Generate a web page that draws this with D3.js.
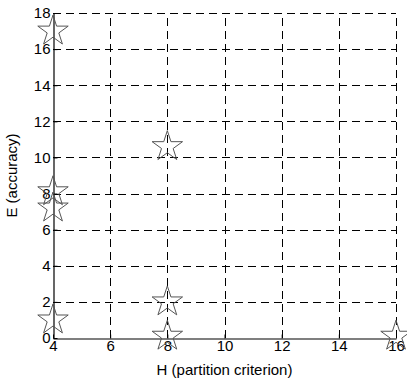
<!DOCTYPE html>
<html>
<head>
<meta charset="utf-8">
<script src="https://cdn.jsdelivr.net/npm/d3@7"></script>
<style>
  html, body { margin: 0; padding: 0; background: #fff; }
  svg { display: block; font-family: "Liberation Sans", Arial, sans-serif; }
</style>
</head>
<body>
<svg id="chart" width="407" height="381"></svg>
<script>
// Partition criterion H versus accuracy E
const hValues = [4, 4, 4, 4, 8, 8, 8, 16];
const eValues = [17, 8.1, 7.2, 1, 10.6, 2, 0.1, 0.1];
const xTicks = [4, 6, 8, 10, 12, 14, 16];
const yTicks = [0, 2, 4, 6, 8, 10, 12, 14, 16, 18];
const xLabel = "H (partition criterion)";
const yLabel = "E (accuracy)";

const W = 407, H = 381;
const margin = { left: 53, right: 11, top: 13, bottom: 43 };
const svg = d3.select("#chart");

const x = d3.scaleLinear().domain([4, 16]).range([margin.left, W - margin.right]);
const y = d3.scaleLinear().domain([0, 18]).range([H - margin.bottom, margin.top]);

// dashed grid
const grid = svg.append("g").attr("stroke", "#000").attr("stroke-width", 1)
  .attr("stroke-dasharray", "8,5").attr("fill", "none");
grid.selectAll("line.v").data(xTicks.slice(1)).join("line")
  .attr("x1", d => Math.round(x(d)) + 0.5).attr("x2", d => Math.round(x(d)) + 0.5)
  .attr("y1", y(0)).attr("y2", y(18));
grid.selectAll("line.h").data(yTicks.slice(1)).join("line")
  .attr("y1", d => Math.round(y(d)) + 0.5).attr("y2", d => Math.round(y(d)) + 0.5)
  .attr("x1", x(4)).attr("x2", x(16));

// axes
const xAxis = d3.axisBottom(x).tickValues(xTicks).tickSize(0).tickPadding(2).tickFormat(d3.format("d"));
const yAxis = d3.axisLeft(y).tickValues(yTicks).tickSize(0).tickPadding(3).tickFormat(d3.format("d"));

const gx = svg.append("g").attr("transform", `translate(0,${Math.round(y(0)) + 0.5})`).call(xAxis);
const gy = svg.append("g").attr("transform", `translate(${Math.round(x(4)) + 0.5},0)`).call(yAxis);
[gx, gy].forEach(g => {
  g.select(".domain").attr("stroke", "#000").attr("stroke-width", 1.2);
  g.selectAll("text").attr("font-size", 15).attr("fill", "#000")
    .attr("font-family", "'Liberation Sans', Arial, sans-serif");
});
// inward tick marks
gx.selectAll(".tick").append("line").attr("y1", 0).attr("y2", -4).attr("stroke", "#000");
gy.selectAll(".tick").append("line").attr("x1", 0).attr("x2", 4).attr("stroke", "#000");

// axis titles
svg.append("text").attr("x", (x(4) + x(16)) / 2).attr("y", 375)
  .attr("text-anchor", "middle").attr("font-size", 15).text(xLabel);
svg.append("text").attr("transform", `translate(17,${(y(0) + y(18)) / 2}) rotate(-90)`)
  .attr("text-anchor", "middle").attr("font-size", 15).text(yLabel);

// pentagram markers
const R = 16, r = R * 0.382;
const starPts = d3.range(10).map(i => {
  const a = -Math.PI / 2 + i * Math.PI / 5;
  const rr = i % 2 === 0 ? R : r;
  return [rr * Math.cos(a), rr * Math.sin(a)];
});
const star = "M" + starPts.map(p => p.join(",")).join("L") + "Z";

svg.append("g").selectAll("path").data(hValues.map((h, i) => [h, eValues[i]])).join("path")
  .attr("d", star)
  .attr("transform", d => `translate(${x(d[0])},${y(d[1])})`)
  .attr("fill", "none").attr("stroke", "#555").attr("stroke-width", 1);
</script>
</body>
</html>
